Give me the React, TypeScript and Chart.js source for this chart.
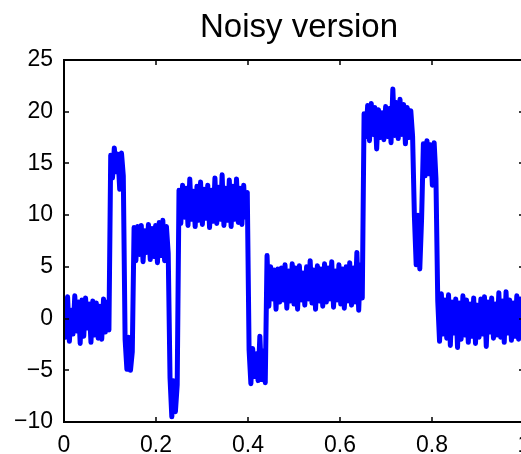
import React, { useEffect, useRef } from "react";
import { Chart, registerables } from "chart.js";

Chart.register(...registerables);

const TITLE = "Noisy version";
const SAMPLE_COUNT = 256;
const X_TICKS = { min: 0, max: 1, step: 0.2 };
const Y_TICKS = { min: -10, max: 25, step: 5 };

// Noisy "Blocks" signal
const segA = [1.9, -1.8, 2.1, -2.2, 0.8, -1.5, 2.2, -1.2, 1.6, -2.4, 1.8, -1.7, 2.0, -0.9, 1.4, -2.3, 1.7, -1.6, 1.5, -1.9, 1.2, -2.0, 1.9, -1.3, 1.6, -1.1];
const segB = [15.8, 13.6, 16.5, 14.2, 15.9, 12.5, 16.0, 13.8];
const segC = [-2.0, -4.9, -1.8, -5.0, -3.2];
const segD = [8.8, 5.6, 8.9, 6.2, 9.0, 5.5, 8.5, 6.4, 9.1, 5.7, 8.7, 6.0, 9.0, 5.4, 9.3, 6.1, 9.5, 5.6, 8.9, 6.3];
const segE = [-5.7, -9.5, -6.0, -9.0, -6.4];
const segF = [12.4, 9.2, 12.9, 9.8, 12.6, 9.0, 13.5, 9.6, 12.3, 8.9, 12.8, 9.5, 13.2, 9.1, 12.5, 9.7, 12.9, 8.8, 12.4, 9.4, 13.6, 9.2, 12.7, 9.6, 13.9, 9.0, 12.6, 9.5, 13.4, 8.9, 12.8, 9.6, 13.5, 9.3, 12.6, 9.1, 12.9, 9.8, 12.2];
const segG = [-3.0, -6.3, -2.9, -5.6, -3.4, -6.0, -1.7, -5.9, -3.1, -6.2];
const segH = [6.1, 1.2, 5.0, 1.9, 4.7, 0.9, 4.8, 1.6, 4.9, 1.8, 5.2, 1.0, 4.6, 1.7, 5.3, 1.4, 4.9, 0.9, 5.1, 1.8, 4.4, 1.3, 5.0, 1.9, 5.6, 1.5, 4.7, 0.9, 5.1, 1.7, 4.8, 1.2, 5.3, 1.6, 4.9, 1.9, 5.5, 1.1, 4.6, 1.8, 5.2, 1.4, 4.8, 1.0, 5.0, 1.7, 5.4, 1.3, 4.9, 1.6, 6.4, 0.8, 5.2, 2.0];
const segI = [19.8, 17.6, 20.6, 17.2, 20.8, 17.8, 20.4, 16.4, 20.2, 17.5, 19.9, 17.3, 20.5, 17.6, 20.3, 17.0, 22.2, 17.7, 20.9, 17.4, 21.2, 17.8, 20.7, 16.9, 20.4, 17.5, 20.1, 17.6];
const segJ = [9.9, 5.2, 10.0, 4.8, 9.6];
const segK = [16.9, 13.8, 17.2, 14.0, 16.8, 12.9, 17.0, 13.5];
const segL = [1.7, -2.2, 2.4, -1.5, 1.8, -1.9, 2.3, -2.6, 1.6, -1.4, 1.9, -2.8, 1.5, -2.0, 2.2, -1.6, 1.8, -2.3, 1.4, -1.7, 2.0, -2.4, 1.3, -1.8, 1.9, -1.5, 2.1, -2.7, 1.6, -1.3, 2.0, -1.9, 1.4, -1.6, 2.5, -1.8, 1.7, -2.3, 2.6, -1.4, 1.8, -2.1, 1.5, -1.7, 2.2, -2.0, 1.9, -1.6];

const noisyValues = [
  ...segA, ...segB, ...segC, ...segD, ...segE, ...segF,
  ...segG, ...segH, ...segI, ...segJ, ...segK, ...segL,
];

const FONT = "'Liberation Sans', Arial, Helvetica, sans-serif";

const fmt = (v: number) => {
  const r = Math.round(v * 10) / 10;
  return String(r).replace("-", "\u2212");
};

const axesBoxPlugin = {
  id: "axesBox",
  afterDatasetsDraw(chart: any) {
    const { ctx, chartArea } = chart;
    const xs = chart.scales.x;
    const ys = chart.scales.y;
    const { left, right, top, bottom } = chartArea;
    ctx.save();
    ctx.strokeStyle = "#000";
    ctx.lineWidth = 2;
    ctx.beginPath();
    ctx.rect(left, top, right - left, bottom - top);
    ctx.stroke();
    const tl = 5;
    ctx.beginPath();
    for (let v = X_TICKS.min; v <= X_TICKS.max + 1e-9; v += X_TICKS.step) {
      const px = Math.round(xs.getPixelForValue(v));
      ctx.moveTo(px, bottom);
      ctx.lineTo(px, bottom - tl);
      ctx.moveTo(px, top);
      ctx.lineTo(px, top + tl);
    }
    for (let v = Y_TICKS.min; v <= Y_TICKS.max + 1e-9; v += Y_TICKS.step) {
      const py = Math.round(ys.getPixelForValue(v));
      ctx.moveTo(left, py);
      ctx.lineTo(left + tl, py);
      ctx.moveTo(right, py);
      ctx.lineTo(right - tl, py);
    }
    ctx.lineWidth = 1.5;
    ctx.stroke();
    // title
    ctx.fillStyle = "#000";
    ctx.font = `33px ${FONT}`;
    ctx.textAlign = "center";
    ctx.textBaseline = "alphabetic";
    ctx.fillText(TITLE, 299, 37);
    ctx.restore();
  },
};

export default function App() {
  const ref = useRef<HTMLCanvasElement | null>(null);

  useEffect(() => {
    if (!ref.current) return;
    const data = noisyValues.map((y, i) => ({ x: i / SAMPLE_COUNT, y }));
    const chart = new Chart(ref.current, {
      type: "line",
      data: {
        datasets: [
          {
            data,
            borderColor: "#0000ff",
            backgroundColor: "#0000ff",
            borderWidth: 5,
            pointRadius: 0,
            tension: 0,
            fill: false,
            borderJoinStyle: "round",
            borderCapStyle: "round",
          },
        ],
      },
      options: {
        animation: false,
        responsive: false,
        maintainAspectRatio: false,
        devicePixelRatio: 1,
        layout: { padding: { left: 0, right: 16, top: 60, bottom: 0 } },
        plugins: {
          legend: { display: false },
          tooltip: { enabled: false },
          title: { display: false },
        },
        scales: {
          x: {
            type: "linear",
            min: X_TICKS.min,
            max: X_TICKS.max,
            grid: { display: false, drawTicks: false },
            border: { display: false },
            ticks: {
              stepSize: X_TICKS.step,
              color: "#000",
              font: { family: FONT, size: 23 },
              padding: 10,
              maxRotation: 0,
              autoSkip: false,
              callback: (v: any) => fmt(Number(v)),
            },
            afterFit(scale: any) {
              scale.height = 32;
              scale.paddingLeft = 0;
              scale.paddingRight = 0;
            },
          },
          y: {
            type: "linear",
            min: Y_TICKS.min,
            max: Y_TICKS.max,
            grid: { display: false, drawTicks: false },
            border: { display: false },
            ticks: {
              stepSize: Y_TICKS.step,
              color: "#000",
              font: { family: FONT, size: 23 },
              padding: 11,
              autoSkip: false,
              callback: (v: any) => fmt(Number(v)),
            },
            afterFit(scale: any) {
              scale.width = 64;
              scale.paddingTop = 0;
              scale.paddingBottom = 0;
            },
          },
        },
      },
      plugins: [axesBoxPlugin],
    });
    return () => chart.destroy();
  }, []);

  return (
    <div
      style={{
        position: "fixed",
        left: 0,
        top: 0,
        width: 521,
        height: 454,
        overflow: "hidden",
        background: "#fff",
      }}
    >
      <canvas
        ref={ref}
        width={540}
        height={454}
        style={{ display: "block", width: 540, height: 454 }}
      />
    </div>
  );
}
